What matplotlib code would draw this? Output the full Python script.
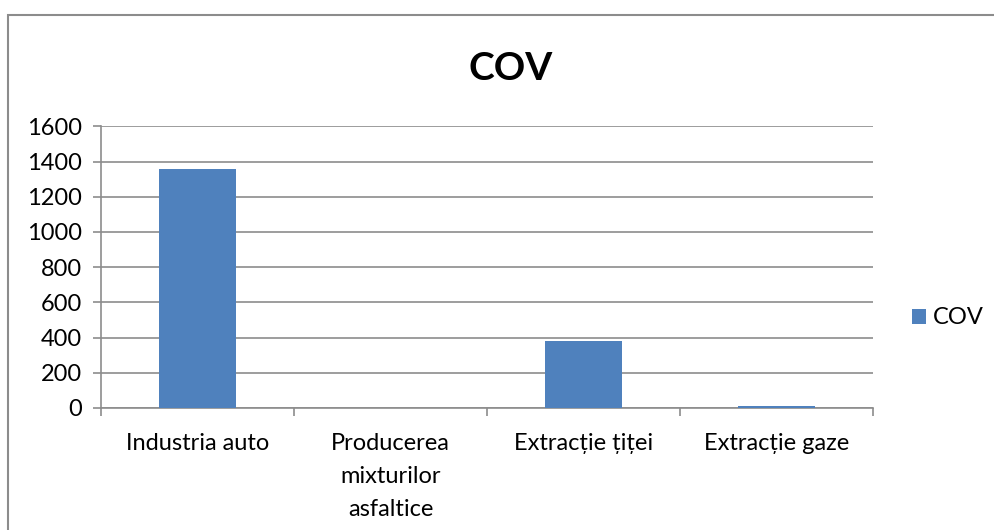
import matplotlib
matplotlib.use("Agg")
import matplotlib.pyplot as plt
from matplotlib.patches import Rectangle

categories = ["Industria auto", "Producerea\nmixturilor\nasfaltice", "Extracție țiței", "Extracție gaze"]
values = [1360, 0, 383, 10]
series_name = "COV"
yticks = [0, 200, 400, 600, 800, 1000, 1200, 1400, 1600]

plt.rcParams['font.family'] = ['Lato', 'DejaVu Sans']

W, H = 995, 530
fig = plt.figure(figsize=(W/100, H/100), dpi=100)
fig.patch.set_facecolor("white")

# outer chart frame
fig.add_artist(Rectangle((8/W, -0.1), 1.2, 1 - 15/H + 0.1, transform=fig.transFigure,
                         fill=False, edgecolor="#8c8c8c", linewidth=1.5))

ax = fig.add_axes([101/W, 1 - 408/H, (873-101)/W, (408-126.3)/H])
x = list(range(len(categories)))
ax.bar(x, values, width=0.4, color="#4f81bd", label=series_name, zorder=3)
ax.set_xlim(-0.5, len(categories) - 0.5)
ax.set_ylim(0, 1600)
ax.set_yticks(yticks)
ax.set_yticklabels([str(v) for v in yticks], fontsize=17)
ax.yaxis.grid(True, color="#8c8c8c", linewidth=1.2, zorder=0)
ax.set_xticks([i - 0.5 for i in range(len(categories) + 1)])
ax.set_xticklabels([])
ax.set_xticks(x, minor=True)
ax.set_xticklabels(categories, minor=True, fontsize=17, linespacing=1.72, va="top")
ax.tick_params(axis="x", which="minor", length=0, pad=18)
ax.tick_params(axis="x", which="major", length=6, color="#8c8c8c", width=1.2)
ax.tick_params(axis="y", length=6, color="#8c8c8c", width=1.2, pad=8)
for s in ["top", "right"]:
    ax.spines[s].set_visible(False)
for s in ["left", "bottom"]:
    ax.spines[s].set_color("#8c8c8c")
    ax.spines[s].set_linewidth(1.2)

fig.text(511/W, 1 - 68/H, "COV", fontsize=28, fontweight="bold", ha="center", va="center")

leg = fig.legend(loc="center left", bbox_to_anchor=(912/W, 1 - 318/H), frameon=False,
                 fontsize=17, handlelength=0.6, handleheight=0.6, handletextpad=0.3,
                 borderpad=0, borderaxespad=0)

fig.savefig("out.png", dpi=100)
